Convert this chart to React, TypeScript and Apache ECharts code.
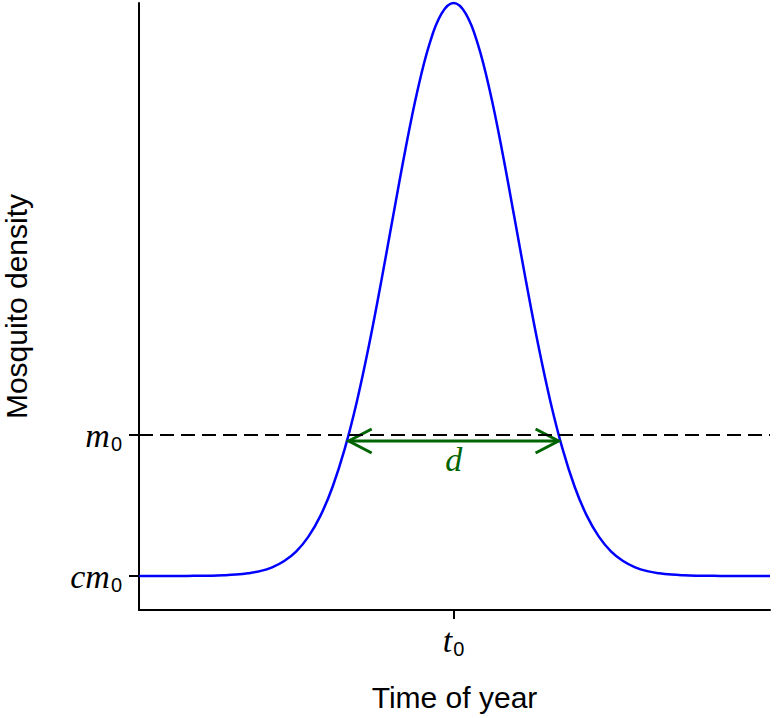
import React, { useEffect, useRef } from 'react';
import * as echarts from 'echarts';

// Time of year (day) and mosquito density
const dayValues = [
  0, 7, 14, 21, 28, 35, 42, 49, 56, 63, 70, 77, 84, 91, 98, 105, 112, 119, 126,
  133, 140, 147, 154, 161, 168, 175, 182, 189, 196, 203, 210, 217, 224, 231,
  238, 245, 252, 259, 266, 273, 280, 287, 294, 301, 308, 315, 322, 329, 336,
  343, 350, 357, 364, 365,
];
const densityValues = [
  3.4, 3.4, 3.4, 3.4, 3.41, 3.42, 3.43, 3.47, 3.54, 3.67, 3.89, 4.27, 4.9, 5.87,
  7.34, 9.44, 12.33, 16.11, 20.83, 26.44, 32.74, 39.4, 45.96, 51.87, 56.59,
  59.64, 60.7, 59.64, 56.59, 51.87, 45.96, 39.4, 32.74, 26.44, 20.83, 16.11,
  12.33, 9.44, 7.34, 5.87, 4.9, 4.27, 3.89, 3.67, 3.54, 3.47, 3.43, 3.42, 3.41,
  3.4, 3.4, 3.4, 3.4, 3.4,
];

const yTickValues = [3.4, 17.5]; // cm0, m0
const yTickLabels = ['cm', 'm'];
const xTickValues = [182]; // t0
const xTickLabels = ['t'];
const m0Level = 17.5;
const arrowStart = 121.3;
const arrowEnd = 242.7;
const arrowLevel = 16.9;
const arrowLabel = 'd';

const xMin = 0;
const xMax = 365;
const yMin = 0;
const yMax = 60.7;

export default function App() {
  const ref = useRef<HTMLDivElement>(null);

  useEffect(() => {
    if (!ref.current) return;
    const chart = echarts.init(ref.current, null, { renderer: 'svg' });
    const mathRich = {
      i: {
        fontFamily: 'Liberation Serif',
        fontStyle: 'italic',
        fontSize: 34,
        color: '#000',
      },
      s: {
        fontFamily: 'Liberation Sans',
        fontSize: 20,
        color: '#000',
        padding: [18, 0, 0, 1],
      },
    };
    chart.setOption({
      animation: false,
      grid: {
        left: 139,
        top: 3,
        right: 6,
        bottom: 108,
        containLabel: false,
        outerBoundsMode: 'none',
      },
      xAxis: {
        type: 'value',
        min: xMin,
        max: xMax,
        name: 'Time of year',
        nameLocation: 'middle',
        nameGap: 72,
        nameTextStyle: { fontFamily: 'Liberation Sans', fontSize: 30, color: '#000' },
        axisLine: { onZero: false, lineStyle: { color: '#000', width: 2 } },
        axisTick: { customValues: xTickValues, length: 9, lineStyle: { color: '#000', width: 2 } },
        axisLabel: {
          customValues: xTickValues,
          margin: 11,
          formatter: (v: number) => {
            const i = xTickValues.indexOf(v);
            return `{i|${xTickLabels[i]}}{s|0}`;
          },
          rich: mathRich,
        },
        splitLine: { show: false },
      },
      yAxis: {
        type: 'value',
        min: yMin,
        max: yMax,
        name: 'Mosquito density',
        nameLocation: 'middle',
        nameGap: 108,
        nameTextStyle: { fontFamily: 'Liberation Sans', fontSize: 30, color: '#000' },
        axisLine: { show: true, lineStyle: { color: '#000', width: 2 } },
        axisTick: { show: true, customValues: yTickValues, length: 10, lineStyle: { color: '#000', width: 2 } },
        axisLabel: {
          customValues: yTickValues,
          margin: 17,
          formatter: (v: number) => {
            const i = yTickValues.indexOf(v);
            return `{i|${yTickLabels[i]}}{s|0}`;
          },
          rich: mathRich,
        },
        splitLine: { show: false },
      },
      series: [
        {
          type: 'line',
          data: dayValues.map((t, i) => [t, densityValues[i]]),
          showSymbol: false,
          smooth: 0.4,
          clip: false,
          lineStyle: { color: '#0000ff', width: 2.5 },
          markLine: {
            silent: true,
            symbol: ['none', 'none'],
            label: { show: false },
            lineStyle: { color: '#000', width: 2, type: [14, 7] },
            data: [{ yAxis: m0Level }],
          },
          z: 3,
        },
        {
          type: 'custom',
          data: [[arrowStart, arrowEnd, arrowLevel]],
          encode: { x: [0, 1], y: 2 },
          z: 4,
          renderItem: (params: any, api: any) => {
            const p1 = api.coord([api.value(0), api.value(2)]);
            const p2 = api.coord([api.value(1), api.value(2)]);
            const stroke = { stroke: '#006400', lineWidth: 3, fill: 'none' };
            const hx = 23;
            const hy = 12;
            return {
              type: 'group',
              children: [
                { type: 'line', shape: { x1: p1[0], y1: p1[1], x2: p2[0], y2: p2[1] }, style: stroke },
                {
                  type: 'polyline',
                  shape: { points: [[p1[0] + hx, p1[1] - hy], [p1[0], p1[1]], [p1[0] + hx, p1[1] + hy]] },
                  style: stroke,
                },
                {
                  type: 'polyline',
                  shape: { points: [[p2[0] - hx, p2[1] - hy], [p2[0], p2[1]], [p2[0] - hx, p2[1] + hy]] },
                  style: stroke,
                },
                {
                  type: 'text',
                  x: (p1[0] + p2[0]) / 2,
                  y: p1[1] + 1,
                  style: {
                    text: arrowLabel,
                    fill: '#006400',
                    fontFamily: 'Liberation Serif',
                    fontStyle: 'italic',
                    fontSize: 34,
                    align: 'center',
                    verticalAlign: 'top',
                  },
                },
              ],
            };
          },
        },
      ],
    });
    return () => chart.dispose();
  }, []);

  return (
    <div
      ref={ref}
      style={{ position: 'fixed', left: 0, top: 0, width: 776, height: 718, background: '#fff' }}
    />
  );
}
